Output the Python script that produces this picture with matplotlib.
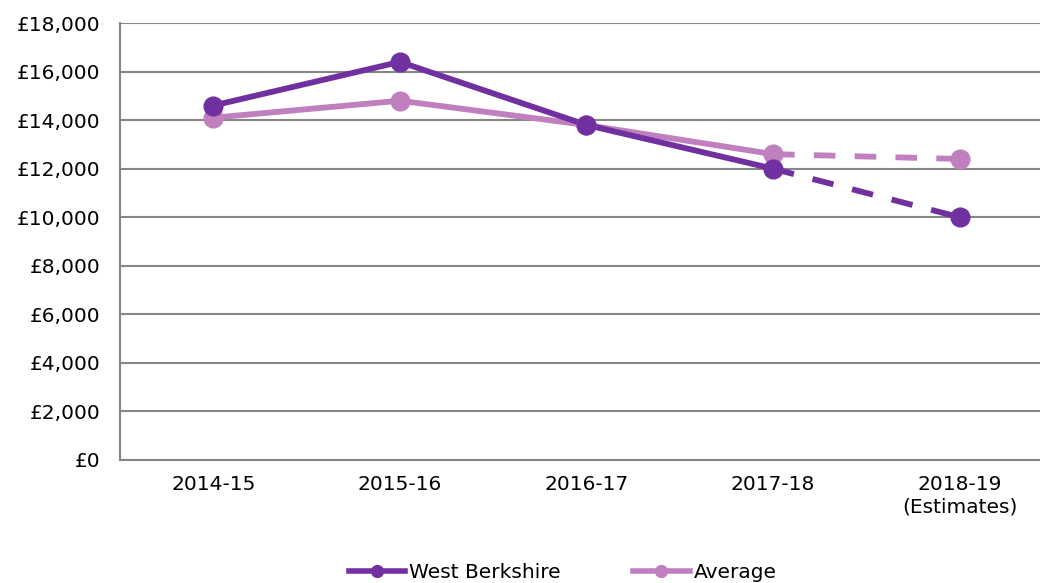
import numpy as np
import matplotlib.pyplot as plt
from matplotlib.lines import Line2D
from matplotlib.ticker import FuncFormatter

years = ['2014-15', '2015-16', '2016-17', '2017-18', '2018-19\n(Estimates)']
west_berks = [14600, 16400, 13800, 12000, 10000]
average = [14100, 14800, 13800, 12600, 12400]

dark = '#7030A0'
light = '#C080C0'
grid_col = '#868686'

plt.rcParams['font.family'] = 'DejaVu Sans'

fig = plt.figure(figsize=(10.4, 5.83), dpi=100)
# plot area runs a little past the right edge, like the original
ax = fig.add_axes([0.1154, 0.211, 0.897, 0.7495])

x = np.arange(len(years))
# solid up to 2017-18, dashed for the estimate
for vals, col in [(average, light), (west_berks, dark)]:
    ax.plot(x[:4], vals[:4], color=col, lw=4.2, solid_capstyle='round', zorder=3)
    ax.plot(x[3:], vals[3:], color=col, lw=4.2, ls=(0, (3.7, 3.3)), zorder=3)
    ax.plot(x, vals, 'o', color=col, ms=13.5, zorder=4)

ax.set_xlim(-0.5, 4.5)
ax.set_ylim(0, 18000)
ax.set_yticks(np.arange(0, 18001, 2000))
ax.yaxis.set_major_formatter(FuncFormatter(lambda v, p: '£{:,.0f}'.format(v)))
ax.set_xticks(x)
ax.set_xticklabels(years)
ax.tick_params(length=0, labelsize=14.5, colors='black')
ax.tick_params(axis='y', pad=14)
ax.tick_params(axis='x', pad=11)
ax.grid(axis='y', color=grid_col, lw=1.5)
ax.set_axisbelow(True)
for s in ['top', 'right']:
    ax.spines[s].set_visible(False)
for s in ['left', 'bottom']:
    ax.spines[s].set_color(grid_col)
    ax.spines[s].set_linewidth(1.5)

handles = [Line2D([], [], color=dark, lw=4, marker='o', ms=8.5),
           Line2D([], [], color=light, lw=4, marker='o', ms=8.5)]
fig.legend(handles, ['West Berkshire', 'Average'], loc='center',
           bbox_to_anchor=(0.541, 0.018), ncol=2, frameon=False,
           fontsize=14.5, handlelength=2.8, handletextpad=0.2,
           columnspacing=3.6)

fig.savefig('out.png', dpi=100)
